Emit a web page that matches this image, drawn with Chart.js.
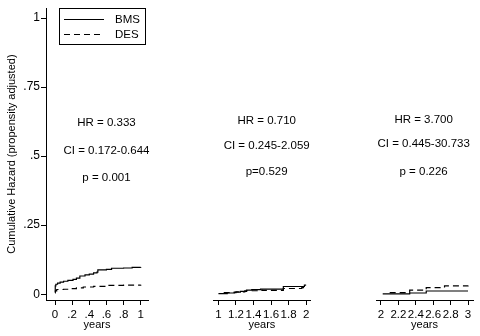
<!DOCTYPE html>
<html>
<head>
<meta charset="utf-8">
<script src="https://cdn.jsdelivr.net/npm/chart.js@4"></script>
<style>
  html, body { margin: 0; padding: 0; background: #fff; }
  #wrap { position: relative; width: 480px; height: 336px; overflow: hidden; background: #fff; }
  #wrap canvas { position: absolute; top: 0; }
</style>
</head>
<body>
<div id="wrap">
  <canvas id="panel1" width="190" height="336" style="left:0;width:190px;height:336px"></canvas>
  <canvas id="panel2" width="160" height="336" style="left:160px;width:160px;height:336px"></canvas>
  <canvas id="panel3" width="160" height="336" style="left:320px;width:160px;height:336px"></canvas>
</div>
<script>
// series names
const legendLabels = ['BMS', 'DES'];

// shared y axis
const yTickValues = [0, 0.25, 0.5, 0.75, 1];
const yTickLabels = ['0', '.25', '.5', '.75', '1'];

// 0-1 years
const xTicks1 = [0, 0.2, 0.4, 0.6, 0.8, 1];
const xTickLabels1 = ['0', '.2', '.4', '.6', '.8', '1'];
const bmsTime1 = [0, 0.003, 0.01, 0.03, 0.06, 0.1, 0.15, 0.21, 0.25, 0.29, 0.35, 0.4, 0.45, 0.49, 0.5, 0.6, 0.66, 0.8, 0.9, 1];
const bmsHaz1  = [0.005, 0.03, 0.036, 0.04, 0.044, 0.047, 0.05, 0.054, 0.058, 0.066, 0.07, 0.073, 0.077, 0.08, 0.088, 0.09, 0.094, 0.095, 0.097, 0.098];
const desTime1 = [0, 0.005, 0.02, 0.1, 0.17, 0.25, 0.33, 0.45, 0.62, 0.8, 1];
const desHaz1  = [0.008, 0.012, 0.017, 0.018, 0.02, 0.023, 0.026, 0.028, 0.032, 0.033, 0.034];

// 1-2 years
const xTicks2 = [1, 1.2, 1.4, 1.6, 1.8, 2];
const xTickLabels2 = ['1', '1.2', '1.4', '1.6', '1.8', '2'];
const bmsTime2 = [1, 1.1, 1.18, 1.25, 1.32, 1.38, 1.48, 1.74, 1.98, 2];
const bmsHaz2  = [0.002, 0.004, 0.007, 0.01, 0.014, 0.016, 0.018, 0.027, 0.032, 0.032];
const desTime2 = [1.06, 1.2, 1.3, 1.45, 1.5, 1.74, 1.95, 2];
const desHaz2  = [0.005, 0.008, 0.012, 0.014, 0.013, 0.02, 0.023, 0.023];

// 2-3 years
const xTicks3 = [2, 2.2, 2.4, 2.6, 2.8, 3];
const xTickLabels3 = ['2', '2.2', '2.4', '2.6', '2.8', '3'];
const bmsTime3 = [2.02, 2.33, 2.52, 3];
const bmsHaz3  = [0.001, 0.004, 0.011, 0.011];
const desTime3 = [2.1, 2.33, 2.52, 2.73, 3];
const desHaz3  = [0.005, 0.014, 0.023, 0.029, 0.031];

// hazard ratio results per period
const hrLabels = ['HR = 0.333', 'HR = 0.710', 'HR = 3.700'];
const ciLabels = ['CI = 0.172-0.644', 'CI = 0.245-2.059', 'CI = 0.445-30.733'];
const pLabels  = ['p = 0.001', 'p=0.529', 'p = 0.226'];

const FONT = '"Liberation Sans", Arial, sans-serif';
const INK = '#000';

function points(t, h) {
  return t.map((v, i) => ({ x: v, y: h[i] }));
}

// HR / CI / p text block
const statsText = {
  id: 'statsText',
  afterDraw(chart, args, opts) {
    const { ctx } = chart;
    const x = chart.scales.x, y = chart.scales.y;
    ctx.save();
    ctx.font = '11.5px ' + FONT;
    ctx.fillStyle = INK;
    ctx.textAlign = 'center';
    ctx.textBaseline = 'middle';
    opts.lines.forEach((txt, i) => {
      ctx.fillText(txt, x.getPixelForValue(opts.x), y.getPixelForValue(opts.y[i]));
    });
    ctx.restore();
  }
};

// boxed legend in the first panel
const boxLegend = {
  id: 'boxLegend',
  afterDraw(chart, args, opts) {
    if (!opts.show) return;
    const { ctx } = chart;
    const b = opts.box;
    ctx.save();
    ctx.strokeStyle = INK;
    ctx.lineWidth = 1;
    ctx.strokeRect(b.x + 0.5, b.y + 0.5, b.w, b.h);
    chart.data.datasets.forEach((ds, i) => {
      const ly = b.y + opts.rowY[i];
      ctx.lineWidth = ds.borderWidth;
      ctx.setLineDash(ds.borderDash || []);
      ctx.beginPath();
      ctx.moveTo(b.x + 5, ly + 0.5);
      ctx.lineTo(b.x + 45, ly + 0.5);
      ctx.stroke();
      ctx.setLineDash([]);
      ctx.fillStyle = INK;
      ctx.font = '11.5px ' + FONT;
      ctx.textBaseline = 'middle';
      ctx.textAlign = 'left';
      ctx.fillText(ds.label, b.x + 56, ly + 1);
    });
    ctx.restore();
  }
};

function makePanel(id, cfg) {
  const xTickFont = { family: FONT, size: 11.5 };
  const yTickFont = { family: FONT, size: 12 };
  const titleFont = { family: FONT, size: 11 };
  new Chart(document.getElementById(id), {
    type: 'line',
    data: {
      datasets: [
        {
          label: legendLabels[0],
          data: points(cfg.bms[0], cfg.bms[1]),
          borderColor: INK, borderWidth: 1.2, pointRadius: 0, stepped: true, fill: false
        },
        {
          label: legendLabels[1],
          data: points(cfg.des[0], cfg.des[1]),
          borderColor: INK, borderWidth: 1.2, pointRadius: 0, stepped: true, fill: false,
          borderDash: [6, 4]
        }
      ]
    },
    options: {
      responsive: false,
      animation: false,
      layout: { padding: cfg.padding },
      plugins: {
        legend: { display: false },
        tooltip: { enabled: false },
        statsText: cfg.stats,
        boxLegend: cfg.legend
      },
      scales: {
        x: {
          type: 'linear',
          min: cfg.xMin, max: cfg.xMax,
          afterBuildTicks: s => { s.ticks = cfg.xTicks.map(v => ({ value: v })); },
          afterFit: s => { s.height = 36; },
          ticks: {
            autoSkip: false, maxRotation: 0, padding: 3,
            color: INK, font: xTickFont,
            callback: (v, i) => cfg.xLabels[i]
          },
          grid: { drawOnChartArea: false, drawTicks: true, tickLength: 5, color: INK },
          border: { display: true, color: INK, width: 1 },
          title: { display: true, text: 'years', color: INK, font: titleFont, padding: { top: 0, bottom: 4 } }
        },
        y: {
          display: cfg.showY,
          min: -0.021, max: 1.036,
          afterBuildTicks: s => { s.ticks = yTickValues.map(v => ({ value: v })); },
          afterFit: s => { s.width = 46; },
          ticks: {
            autoSkip: false, padding: 1,
            color: INK, font: yTickFont,
            callback: (v, i) => yTickLabels[i]
          },
          grid: { drawOnChartArea: false, drawTicks: true, tickLength: 5, color: INK },
          border: { display: true, color: INK, width: 1 },
          title: {
            display: true, text: 'Cumulative Hazard (propensity adjusted)',
            color: INK, font: titleFont, padding: { top: 5, bottom: 0 }
          }
        }
      }
    },
    plugins: [statsText, boxLegend]
  });
}

makePanel('panel1', {
  bms: [bmsTime1, bmsHaz1], des: [desTime1, desHaz1],
  xMin: -0.105, xMax: 1.085, xTicks: xTicks1, xLabels: xTickLabels1,
  showY: true,
  padding: { top: 3, left: 0, right: 42, bottom: 0 },
  stats: { lines: [hrLabels[0], ciLabels[0], pLabels[0]], x: 0.6, y: [0.619, 0.521, 0.423] },
  legend: { show: true, box: { x: 59, y: 8, w: 86, h: 36 }, rowY: [11, 26] }
});

makePanel('panel2', {
  bms: [bmsTime2, bmsHaz2], des: [desTime2, desHaz2],
  xMin: 0.938, xMax: 2.052, xTicks: xTicks2, xLabels: xTickLabels2,
  showY: false,
  padding: { top: 3, left: 7, right: 9.3, bottom: 0 },
  stats: { lines: [hrLabels[1], ciLabels[1], pLabels[1]], x: 1.55, y: [0.617, 0.528, 0.435] },
  legend: { show: false }
});

makePanel('panel3', {
  bms: [bmsTime3, bmsHaz3], des: [desTime3, desHaz3],
  xMin: 1.943, xMax: 3.057, xTicks: xTicks3, xLabels: xTickLabels3,
  showY: false,
  padding: { top: 3, left: 10, right: 7, bottom: 0 },
  stats: { lines: [hrLabels[2], ciLabels[2], pLabels[2]], x: 2.49, y: [0.619, 0.536, 0.435] },
  legend: { show: false }
});
</script>
</body>
</html>
